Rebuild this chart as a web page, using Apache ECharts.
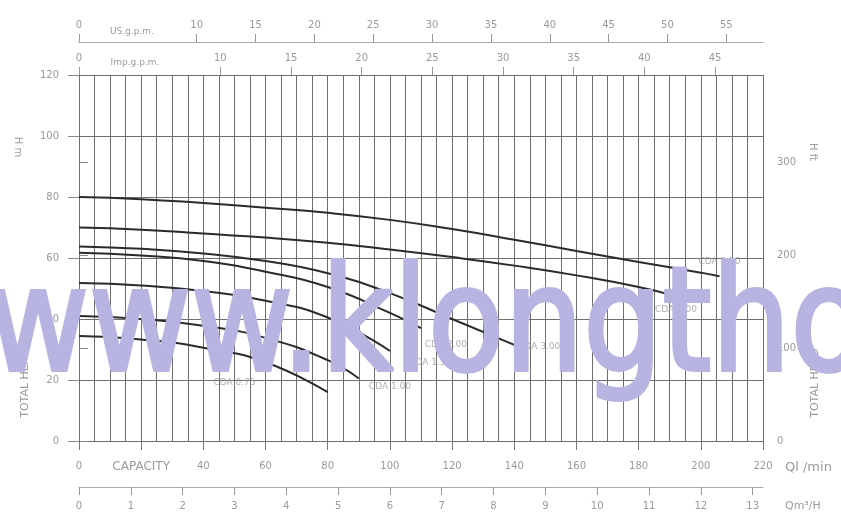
<!DOCTYPE html>
<html><head><meta charset="utf-8">
<script src="https://cdn.jsdelivr.net/npm/echarts@6/dist/echarts.min.js"></script>
<style>html,body{margin:0;padding:0;background:#fff}#c{width:841px;height:516px}</style>
</head><body><div id="c"></div>
<script>
// ---- data (Q in l/min, H in m) ----
const cda550Q = [0, 20, 40, 60, 80, 100, 120, 140, 160, 180, 200, 206];
const cda550H = [80, 79.3, 78, 76.5, 74.8, 72.5, 69.5, 66, 62.3, 58.7, 55.2, 54];
const cda400Q = [0, 20, 40, 60, 80, 100, 120, 140, 160, 180, 190];
const cda400H = [70, 69.3, 68, 66.7, 65, 62.8, 60.3, 57.5, 54.3, 50.5, 48];
const cda300Q = [0, 20, 40, 60, 80, 100, 120, 140];
const cda300H = [63.8, 63, 61.5, 59, 55, 48.5, 40, 31.5];
const cda200Q = [0, 20, 40, 60, 80, 100, 110];
const cda200H = [61.7, 60.8, 59, 55.5, 50.5, 42, 37];
const cda150Q = [0, 20, 40, 60, 80, 100];
const cda150H = [51.8, 51, 49.2, 46, 40.5, 29.5];
const cda100Q = [0, 20, 40, 60, 80, 90];
const cda100H = [41, 40, 37.8, 33.8, 26.5, 20.5];
const cda075Q = [0, 20, 40, 60, 80];
const cda075H = [34.4, 33.3, 30.6, 25.8, 16];

const curveNames = ['CDA 5.50', 'CDA 4.00', 'CDA 3.00', 'CDA 2.00', 'CDA 1.50', 'CDA 1.00', 'CDA 0.75'];
// label anchor points in data units (l/min, m)
const labelQ = [206, 192, 148, 118, 113, 100, 50];
const labelH = [58.7, 42.9, 30.8, 31.5, 25.6, 17.7, 19];

// axis ticks
const headTicksM = [0, 20, 40, 60, 80, 100, 120];
const headTicksFt = [0, 100, 200, 300];
const flowTicksLmin = [0, 20, 40, 60, 80, 100, 120, 140, 160, 180, 200, 220];
const flowTicksM3h = [0, 1, 2, 3, 4, 5, 6, 7, 8, 9, 10, 11, 12, 13];
const flowTicksUS = [0, 10, 15, 20, 25, 30, 35, 40, 45, 50, 55];
const flowTicksImp = [0, 10, 15, 20, 25, 30, 35, 40, 45];

const Q_MAX = 220, H_MAX = 120;
const M_TO_FT = 3.28084, US_GAL = 3.78541, IMP_GAL = 4.54609, M3H = 1000 / 60;

const pairs = (q, h) => q.map((v, i) => [v, h[i]]);
const curves = [
  pairs(cda550Q, cda550H), pairs(cda400Q, cda400H), pairs(cda300Q, cda300H),
  pairs(cda200Q, cda200H), pairs(cda150Q, cda150H), pairs(cda100Q, cda100H),
  pairs(cda075Q, cda075H)
];

const lblColor = '#9a9a9a';
const lblFont = 'DejaVu Sans';
const gridColor = '#6e6e6e';
const wmColor = '#b8b4e2';
const chart = echarts.init(document.getElementById('c'), null, { renderer: 'canvas' });

const series = curves.map((d, i) => ({
  name: curveNames[i], type: 'line', xAxisIndex: 0, yAxisIndex: 0,
  data: d, smooth: true, symbol: 'none',
  lineStyle: { color: '#2b2b2b', width: 2 }, z: 3
}));
series.push({
  type: 'scatter', xAxisIndex: 0, yAxisIndex: 0, symbolSize: 0,
  data: labelQ.map((q, i) => [q, labelH[i], curveNames[i]]),
  label: { show: true, position: 'inside', formatter: p => p.value[2],
    color: lblColor, fontSize: 9, fontFamily: lblFont },
  z: 4, silent: true
});

chart.setOption({
  animation: false,
  backgroundColor: '#fff',
  grid: { left: 79, right: 78, top: 75, bottom: 75 },
  xAxis: [
    { type: 'value', position: 'bottom', min: 0, max: Q_MAX, interval: 5,
      axisLine: { show: true, lineStyle: { color: gridColor, width: 1 } },
      axisTick: { show: false }, axisLabel: { show: false },
      splitLine: { show: true, lineStyle: { color: gridColor, width: 1 } } },
    { type: 'value', position: 'bottom', min: 0, max: Q_MAX,
      axisLine: { show: false },
      axisTick: { show: true, length: 9, customValues: flowTicksLmin, lineStyle: { color: '#777' } },
      axisLabel: { show: true, customValues: flowTicksLmin, margin: 20, color: lblColor, fontSize: 10, fontFamily: lblFont,
        formatter: v => v === 20 ? '{cap|CAPACITY}' : String(v),
        rich: { cap: { fontSize: 12, color: lblColor, fontFamily: lblFont } } },
      splitLine: { show: false },
      name: 'Ql /min', nameLocation: 'end', nameGap: 22,
      nameTextStyle: { color: lblColor, fontSize: 13, fontFamily: lblFont, verticalAlign: 'top', padding: [20, 0, 0, 0] } },
    { type: 'value', position: 'bottom', offset: 46, min: 0, max: Q_MAX / M3H,
      axisLine: { show: true, lineStyle: { color: '#aaa' } },
      axisTick: { show: true, length: 8, customValues: flowTicksM3h, lineStyle: { color: '#999' } },
      axisLabel: { show: true, customValues: flowTicksM3h, margin: 14, color: lblColor, fontSize: 10, fontFamily: lblFont },
      splitLine: { show: false },
      name: 'Qm³/H', nameLocation: 'end', nameGap: 22,
      nameTextStyle: { color: lblColor, fontSize: 11, fontFamily: lblFont, verticalAlign: 'top', padding: [14, 0, 0, 0] } },
    { type: 'value', position: 'top', offset: 0, min: 0, max: Q_MAX / IMP_GAL,
      axisLine: { show: false },
      axisTick: { show: true, length: 8, customValues: flowTicksImp, lineStyle: { color: '#999' } },
      axisLabel: { show: true, customValues: flowTicksImp, margin: 12, color: lblColor, fontSize: 10, fontFamily: lblFont },
      splitLine: { show: false } },
    { type: 'value', position: 'top', offset: 33, min: 0, max: Q_MAX / US_GAL,
      axisLine: { show: true, lineStyle: { color: '#aaa' } },
      axisTick: { show: true, length: 8, customValues: flowTicksUS, lineStyle: { color: '#999' } },
      axisLabel: { show: true, customValues: flowTicksUS, margin: 12, color: lblColor, fontSize: 10, fontFamily: lblFont },
      splitLine: { show: false } }
  ],
  yAxis: [
    { type: 'value', position: 'left', min: 0, max: H_MAX, interval: 10,
      axisLine: { show: true, lineStyle: { color: gridColor } },
      axisTick: { show: true, length: 11, customValues: headTicksM, lineStyle: { color: '#888' } },
      axisLabel: { show: true, customValues: headTicksM, margin: 20, color: lblColor, fontSize: 10, fontFamily: lblFont },
      splitLine: { show: true, lineStyle: { color: gridColor, width: 1 } } },
    { type: 'value', position: 'right', min: 0, max: H_MAX * M_TO_FT,
      axisLine: { show: false },
      axisTick: { show: true, length: 9, customValues: headTicksFt, lineStyle: { color: '#888' } },
      axisLabel: { show: true, customValues: headTicksFt, margin: 14, color: lblColor, fontSize: 10, fontFamily: lblFont },
      splitLine: { show: false } }
  ],
  series: series,
  graphic: [
    { type: 'text', x: 132, y: 32, style: { text: 'US.g.p.m.', fill: lblColor, font: '9px DejaVu Sans', align: 'center', verticalAlign: 'middle' } },
    { type: 'text', x: 135, y: 63, style: { text: 'Imp.g.p.m.', fill: lblColor, font: '9px DejaVu Sans', align: 'center', verticalAlign: 'middle' } },
    { type: 'text', x: 18, y: 147, rotation: -Math.PI / 2, style: { text: 'H m', fill: lblColor, font: '10px DejaVu Sans', align: 'center', verticalAlign: 'middle' } },
    { type: 'text', x: 813, y: 152, rotation: -Math.PI / 2, style: { text: 'H ft', fill: lblColor, font: '10px DejaVu Sans', align: 'center', verticalAlign: 'middle' } },
    { type: 'text', x: 25, y: 383, rotation: Math.PI / 2, style: { text: 'TOTAL HEAD', fill: lblColor, font: '11px DejaVu Sans', align: 'center', verticalAlign: 'middle' } },
    { type: 'text', x: 815, y: 383, rotation: Math.PI / 2, style: { text: 'TOTAL HEAD', fill: lblColor, font: '11px DejaVu Sans', align: 'center', verticalAlign: 'middle' } },
    { type: 'text', x: -13, y: 332, scaleX: 0.86, z: 100, style: { text: 'www.klongtho', fill: wmColor, stroke: wmColor, lineWidth: 4, font: '145px "DejaVu Sans"', align: 'left', verticalAlign: 'middle' } }
  ]
});
</script></body></html>
